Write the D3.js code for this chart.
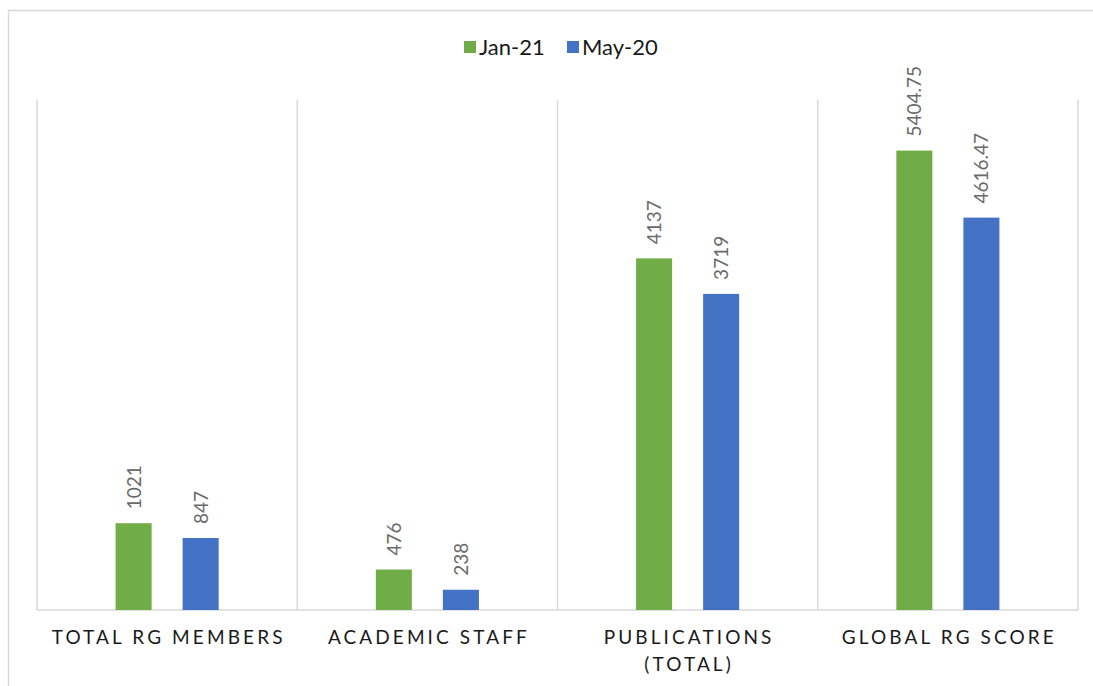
<!DOCTYPE html>
<html><head><meta charset="utf-8">
<script src="https://cdn.jsdelivr.net/npm/d3@7"></script>
<style>body{margin:0;background:#fff;} svg{display:block;font-family:Lato, "Open Sans", sans-serif;}</style>
</head><body>
<svg id="c" width="1093" height="686"></svg>
<script>
const categories = [["TOTAL RG MEMBERS"], ["ACADEMIC STAFF"], ["PUBLICATIONS", "(TOTAL)"], ["GLOBAL RG SCORE"]];
const seriesNames = ["Jan-21", "May-20"];
const jan21 = [1021, 476, 4137, 5404.75];
const may20 = [847, 238, 3719, 4616.47];
const labelsJan = ["1021", "476", "4137", "5404.75"];
const labelsMay = ["847", "238", "3719", "4616.47"];
const colors = ["#70AD47", "#4472C4"];

(function(){
const svg = d3.select("#c");
svg.append("path").attr("d", "M1093,10.5 H8.5 V686").attr("fill", "none").attr("stroke", "#d9d9d9").attr("stroke-width", 1.5);

const pL = 37, pR = 1078, pT = 100, pB = 610;
const x = d3.scaleBand().domain(d3.range(categories.length)).range([pL, pR]).padding(0);
const xs = d3.scaleBand().domain(seriesNames).range([0, x.bandwidth()]).paddingInner(0.4627).paddingOuter(1.172);
const y = d3.scaleLinear().domain([0, 6000]).range([pB, pT]);

const g = svg.append("g");
const seps = d3.range(categories.length + 1).map(i => i < categories.length ? x(i) : pR);
g.selectAll("line.sep").data(seps).join("line").attr("class", "sep")
  .attr("x1", d => d).attr("x2", d => d).attr("y1", pT).attr("y2", pB)
  .attr("stroke", "#d9d9d9").attr("stroke-width", 1.5);
g.append("line").attr("x1", pL).attr("x2", pR).attr("y1", pB).attr("y2", pB)
  .attr("stroke", "#d9d9d9").attr("stroke-width", 1.5);

const data = [];
categories.forEach((c, i) => {
  data.push({i, s: seriesNames[0], v: jan21[i], lab: labelsJan[i], col: colors[0]});
  data.push({i, s: seriesNames[1], v: may20[i], lab: labelsMay[i], col: colors[1]});
});

g.selectAll("rect.bar").data(data).join("rect").attr("class", "bar")
  .attr("x", d => x(d.i) + xs(d.s)).attr("width", xs.bandwidth())
  .attr("y", d => y(d.v)).attr("height", d => y(0) - y(d.v))
  .attr("fill", d => d.col);

g.selectAll("text.val").data(data).join("text").attr("class", "val")
  .attr("transform", d => `translate(${x(d.i) + xs(d.s) + xs.bandwidth()/2 + 7},${y(d.v) - 14}) rotate(-90)`)
  .attr("text-anchor", "start").attr("font-size", 19).attr("fill", "#6a6a6a")
  .text(d => d.lab);

categories.forEach((lines, i) => {
  const t = g.append("text").attr("text-anchor", "middle").attr("font-size", 19)
    .attr("fill", "#1a1a1a").style("letter-spacing", "3.1px");
  lines.forEach((ln, k) => {
    t.append("tspan").attr("x", x(i) + x.bandwidth()/2 + 1.5).attr("y", 644 + k * 27).text(ln);
  });
});

const leg = svg.append("g");
const legItems = [{n: seriesNames[0], c: colors[0], x: 464}, {n: seriesNames[1], c: colors[1], x: 567}];
legItems.forEach(it => {
  leg.append("rect").attr("x", it.x).attr("y", 41).attr("width", 12).attr("height", 12).attr("fill", it.c);
  leg.append("text").attr("x", it.x + 15).attr("y", 55).attr("font-size", 22).attr("fill", "#1a1a1a").text(it.n);
});
})();
</script>
</body></html>
